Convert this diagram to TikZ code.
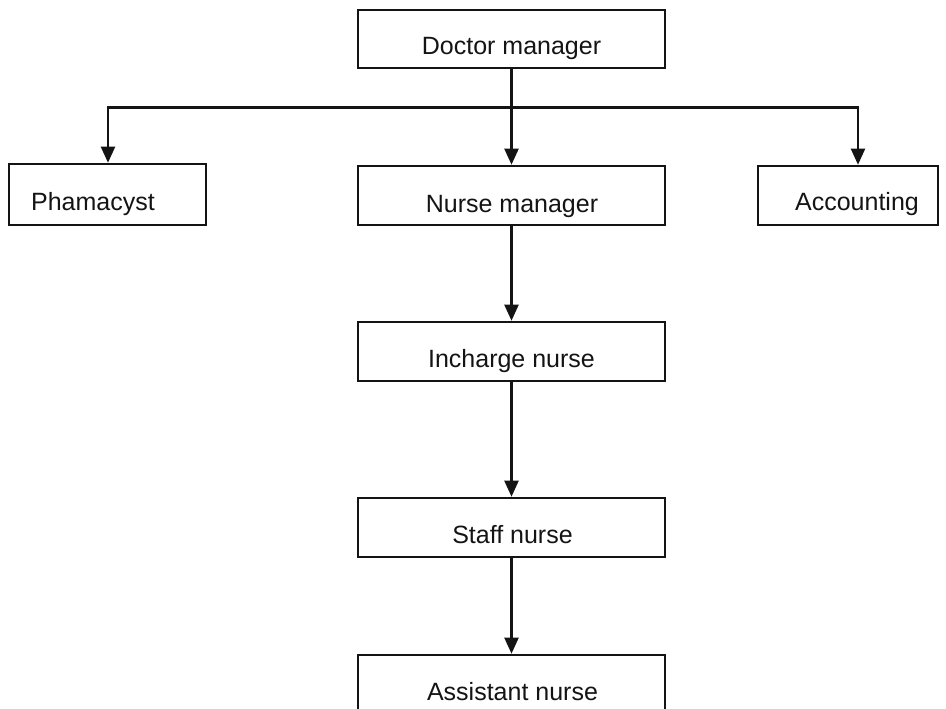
\documentclass[tikz,border=0pt]{standalone}
\usepackage{fontspec}
\setmainfont{Liberation Sans}
\usetikzlibrary{arrows.meta}
\begin{document}
\begin{tikzpicture}[x=1pt,y=-1pt,
  box/.style={draw=black!92, line width=2.6pt, rectangle, inner sep=0pt},
  txt/.style={anchor=base, inner sep=0pt, font=\fontsize{25}{30}\selectfont, text=black!92},
  link/.style={draw=black!92, line width=2.2pt},
  arrowlink/.style={link, -{Triangle[width=14pt,length=16pt]}}]
\fill[white] (0,0) rectangle (946,709);
\useasboundingbox (0,0) rectangle (946,709);

% boxes
\node[box, minimum width=307pt, minimum height=58pt] (doc)   at (511.5,39)    {};
\node[box, minimum width=197pt, minimum height=61pt] (ph)    at (107.5,194.5) {};
\node[box, minimum width=307pt, minimum height=59pt] (nm)    at (511.5,195.5) {};
\node[box, minimum width=180pt, minimum height=59pt] (acc)   at (848,195.5)   {};
\node[box, minimum width=307pt, minimum height=59pt] (inc)   at (511.5,351.5) {};
\node[box, minimum width=307pt, minimum height=59pt] (staff) at (511.5,527.5) {};
\node[box, minimum width=307pt, minimum height=60pt] (asst)  at (511.5,685)   {};

% labels
\node[txt] (doc-t)   at (511.5,55)  {Doctor manager};
\node[txt] (ph-t)    at (93,210)    {Phamacyst};
\node[txt] (nm-t)    at (512,212)   {Nurse manager};
\node[txt] (acc-t)   at (857,210)   {Accounting};
\node[txt] (inc-t)   at (511.5,367) {Incharge nurse};
\node[txt] (staff-t) at (512.5,543) {Staff nurse};
\node[txt] (asst-t)  at (512.5,700) {Assistant nurse};

% connectors
\coordinate (bus) at (511.5,107.5);
\draw[link] (doc.south) -- (bus);
\draw[arrowlink] (bus) -- (nm.north);
\draw[arrowlink] (bus) -| ([xshift=0.5pt]ph.north);
\draw[arrowlink] (bus) -| ([xshift=10pt]acc.north);
\draw[arrowlink] (nm.south) -- (inc.north);
\draw[arrowlink] (inc.south) -- (staff.north);
\draw[arrowlink] (staff.south) -- (asst.north);
\end{tikzpicture}
\end{document}
